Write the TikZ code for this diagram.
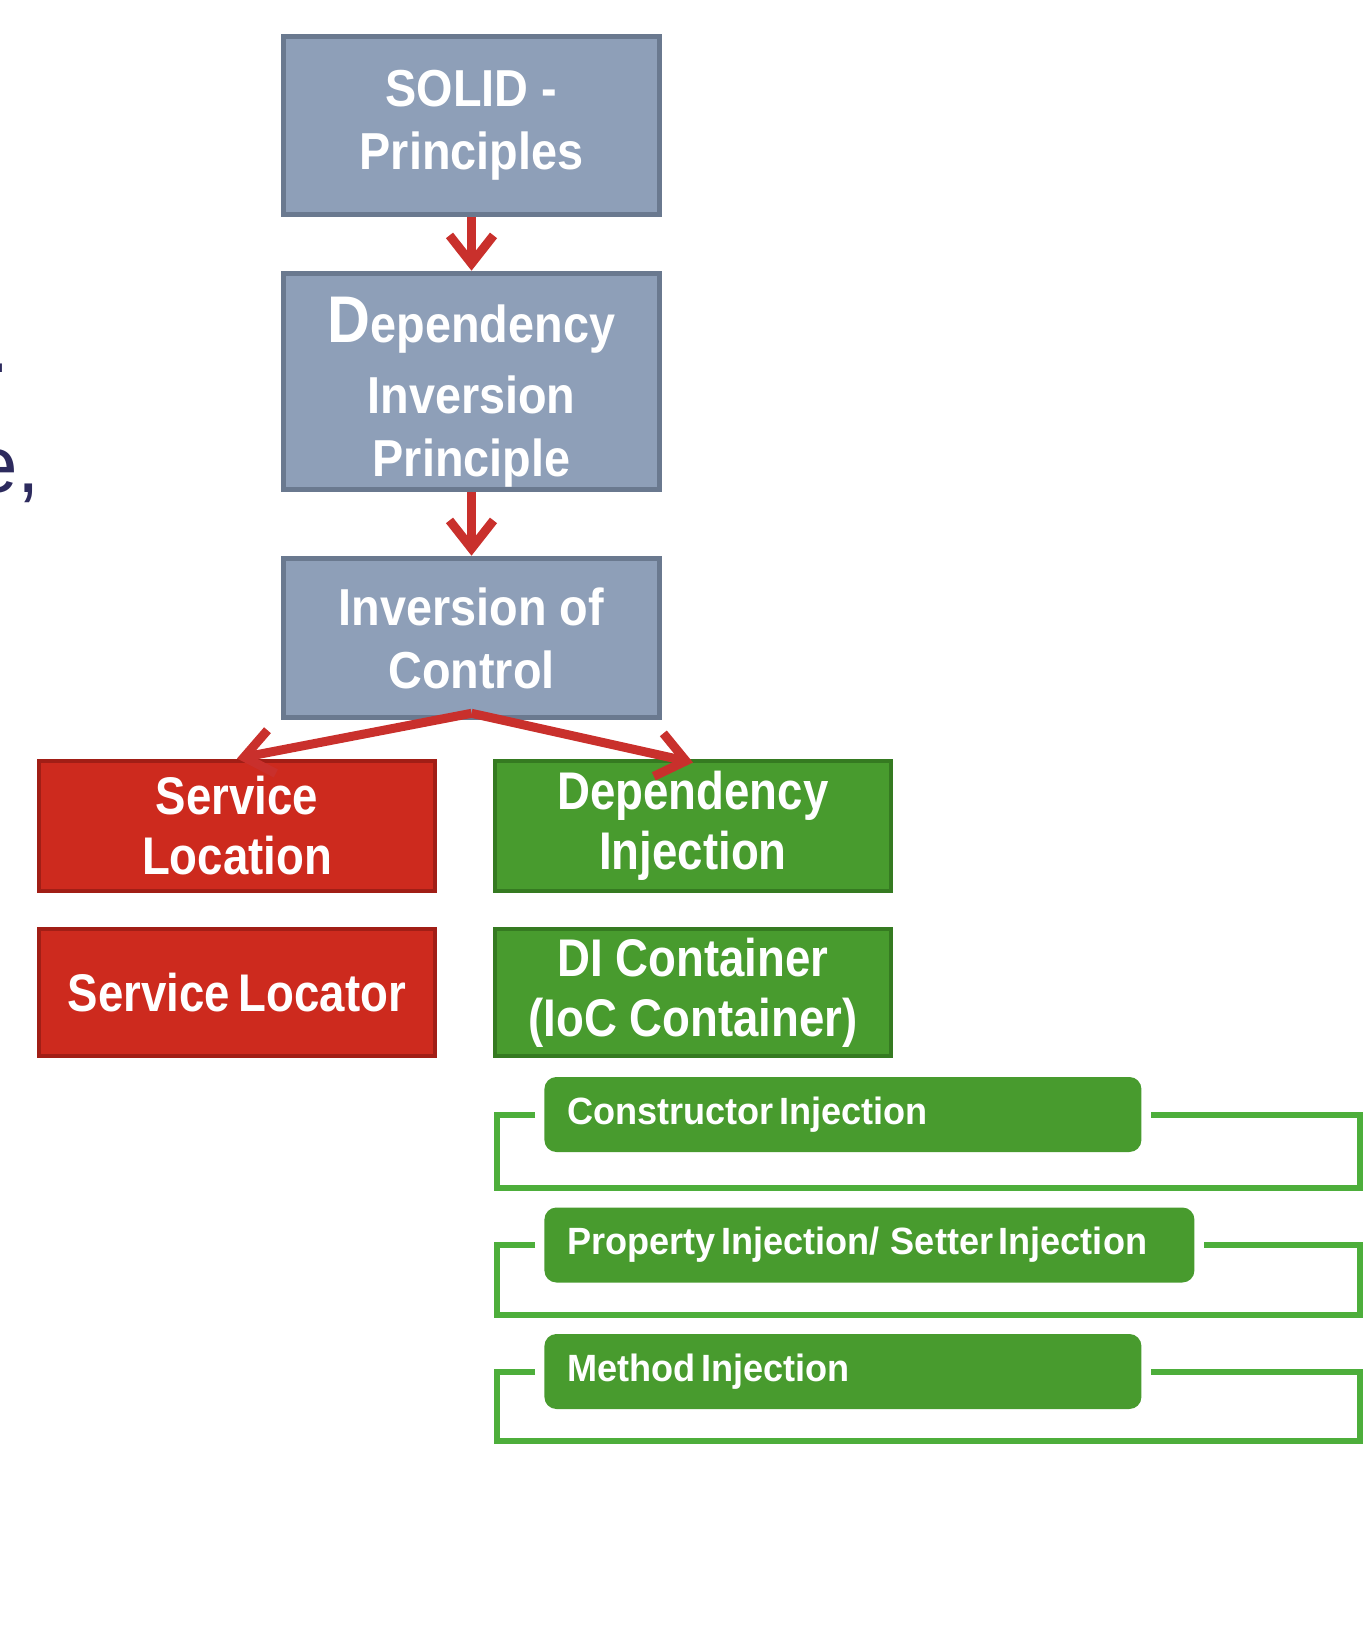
\documentclass[tikz,border=0pt]{standalone}
\usepackage{fontspec}
\setmainfont{Liberation Sans}
\newfontfamily\boxfont[FakeStretch=0.9]{Liberation Sans}
\newfontfamily\lowfont[FakeStretch=0.86]{Liberation Sans}
\newfontfamily\injfont[FakeStretch=0.95,WordSpace=0.55]{Liberation Sans}
\usetikzlibrary{arrows.meta}
\definecolor{grayfill}{HTML}{8E9FB8}
\definecolor{grayline}{HTML}{6A798F}
\definecolor{redfill}{HTML}{CD2A1E}
\definecolor{redline}{HTML}{A11E16}
\definecolor{greenfill}{HTML}{489B2E}
\definecolor{greenline}{HTML}{357A21}
\definecolor{brkgreen}{HTML}{4DAE3B}
\definecolor{arrred}{HTML}{C9302C}
\definecolor{slidetext}{HTML}{2D2B5E}
\tikzset{
  gbox/.style={draw=grayline, fill=grayfill, line width=2.8pt, text=white,
    align=center, minimum width=188pt,
    font=\boxfont\bfseries\fontsize{26}{31.5}\selectfont},
  gtext/.style={text=white, align=center, inner sep=0pt,
    font=\boxfont\bfseries\fontsize{26}{31.5}\selectfont},
  rbox/.style={draw=redline, fill=redfill, line width=2pt, text=white,
    align=center, minimum width=198pt, minimum height=65pt,
    font=\lowfont\bfseries\fontsize{26.5}{30}\selectfont},
  grbox/.style={draw=greenline, fill=greenfill, line width=2pt, text=white,
    align=center, minimum width=198pt, minimum height=65pt,
    font=\lowfont\bfseries\fontsize{26.5}{30}\selectfont},
  injbox/.style={fill=greenfill, rounded corners=6pt, text=white,
    anchor=west, minimum height=37.5pt, inner xsep=11.5pt,
    font=\injfont\bfseries\fontsize{19}{22}\selectfont},
  brk/.style={draw=brkgreen, line width=3pt},
  arr/.style={draw=arrred, line width=4.5pt,
    -{Straight Barb[length=14pt,width=22pt]}},
  slide/.style={text=slidetext, inner sep=0pt,
    font=\fontsize{40}{44}\selectfont}
}
\begin{document}
\begin{tikzpicture}[x=0.5pt,y=-0.5pt]
\useasboundingbox (0,0) rectangle (1365,1648);

% cut-off slide text at left edge
\node[slide, anchor=base west] (dot) at (-13,372) {.};
\node[slide, anchor=base west] (ecomma) at (-27,492) {e,};

% chain of gray boxes
\node[gbox, minimum height=89pt] (solid) at (471.5,125.5) {SOLID -\\Principles};
\node[gbox, minimum height=108pt] (dip) at (471.5,381.5) {};
\node[gtext] (diptext) at (471.5,392)
  {{\fontsize{33}{33}\selectfont D}ependency\\[4pt]Inversion\\Principle};
\node[gbox, minimum height=79.5pt] (ioc) at (471.5,638) {Inversion of\\Control};

% red / green boxes
\node[rbox] (sl) at (237,825.5) {Service\\Location};
\node[grbox] (di) at (693,825.5) {Dependency\\Injection};
\node[rbox, minimum height=63.5pt] (slr) at (237,992.5) {Service\,Locator};
\node[grbox, minimum height=63.5pt] (dic) at (693,992.5) {DI Container\\(IoC Container)};

% arrows
\draw[arr] (solid.south) -- (dip.north);
\draw[arr] (dip.south) -- (ioc.north);
\draw[arr] ([yshift=3.5pt]ioc.south) -- (sl.north);
\draw[arr] ([yshift=3.5pt]ioc.south) -- ([yshift=-2pt]di.north);

% injection types with brackets
\node[injbox, minimum width=298.5pt] (ci) at (544,1114.5)
  {\makebox[275.5pt][l]{Constructor Injection}};
\node[injbox, minimum width=325pt] (pi) at (544,1245)
  {\makebox[302pt][l]{Property Injection/\ \ Setter Injection}};
\node[injbox, minimum width=298.5pt] (mi) at (544,1371.5)
  {\makebox[275.5pt][l]{Method Injection}};

\draw[brk] ([xshift=-4.5pt]ci.west) -| (497,1188) -| (1360,1114.5) -- ([xshift=4.5pt]ci.east);
\draw[brk] ([xshift=-4.5pt]pi.west) -| (497,1315) -| (1360,1245) -- ([xshift=4.5pt]pi.east);
\draw[brk] ([xshift=-4.5pt]mi.west) -| (497,1441) -| (1360,1371.5) -- ([xshift=4.5pt]mi.east);
\end{tikzpicture}
\end{document}
